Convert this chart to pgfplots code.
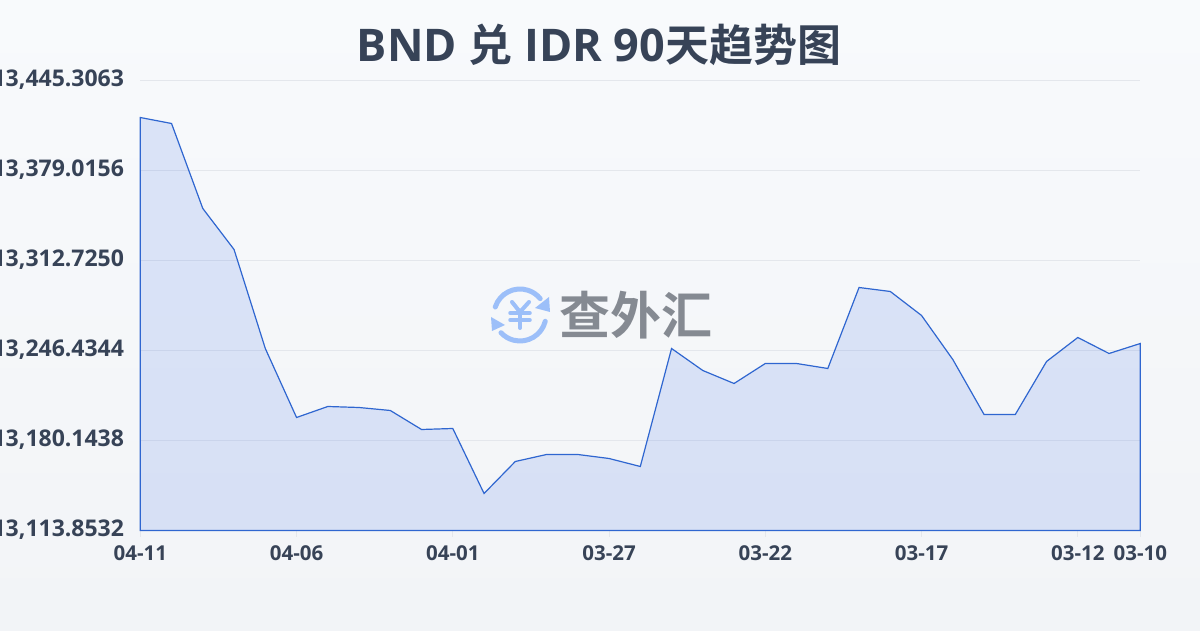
\documentclass[border=0pt]{standalone}
\usepackage{pgfplots}
\pgfplotsset{compat=1.18}
\usepackage{fontspec}
\setmainfont{Open Sans}
\newfontfamily\cjk{Noto Sans CJK SC}[BoldFont={Noto Sans CJK SC Bold}]
\definecolor{txt}{HTML}{374357}
\definecolor{gridc}{HTML}{E4E7EC}
\definecolor{linec}{HTML}{2F66D0}
\definecolor{fillc}{HTML}{3B6CE6}
\definecolor{bgtop}{HTML}{F8FAFC}
\definecolor{bgbot}{HTML}{F2F4F7}
\definecolor{logoc}{HTML}{9CBFF9}
\definecolor{wmc}{HTML}{858A92}
\pgfplotstableread{
idx val
0 13418.05
1 13413.63
2 13351.03
3 13320.83
4 13247.91
5 13197.09
6 13205.19
7 13204.45
8 13202.25
9 13188.25
10 13188.99
11 13141.11
12 13164.68
13 13169.84
14 13169.84
15 13166.89
16 13161.00
17 13247.91
18 13231.70
19 13222.13
20 13236.86
21 13236.86
22 13233.18
23 13292.84
24 13289.90
25 13272.22
26 13239.81
27 13199.30
28 13199.30
29 13238.34
30 13256.01
31 13244.23
32 13251.59
}\datatable
\begin{document}
\begin{tikzpicture}[x=1pt,y=1pt]
\useasboundingbox (0,0) rectangle (1200,630);
\clip (0,0) rectangle (1200,630);
\shade[top color=bgtop,bottom color=bgbot] (0,0) rectangle (1200,630);
\begin{axis}[
  at={(140.3pt,99.5pt)},anchor=south west,
  scale only axis,width=1000pt,height=450pt,
  xmin=0,xmax=32,ymin=13113.8532,ymax=13445.3063,
  axis x line=bottom,axis y line=left,
  axis line style={draw=none},
  x axis line style={-},y axis line style={-},
  scaled y ticks=false,scaled x ticks=false,
  xtick={0,5,10,15,20,25,30,32},
  xticklabels={04-11,04-06,04-01,03-27,03-22,03-17,03-12,03-10},
  ytick={13113.8532,13180.1438,13246.4344,13312.7250,13379.0156,13445.3063},
  yticklabels={{13,113.8532},{13,180.1438},{13,246.4344},{13,312.7250},{13,379.0156},{13,445.3063}},
  ymajorgrids,
  grid style={gridc,line width=1pt},
  tick style={draw=none},
  extra x ticks={0,5,10,15,20,25,30,32},
  extra x tick labels={},
  extra x tick style={tick style={draw=gridc,line width=1pt},major tick length=6pt,tick align=outside},
  xticklabel style={font=\fontsize{20.5}{20.5}\selectfont\bfseries,text=txt,inner sep=0pt,yshift=-13pt},
  yticklabel style={font=\fontsize{23}{23}\selectfont\bfseries,text=txt,inner sep=0pt,xshift=-14pt,yshift=0.5pt},
  clip=false,
]
\addplot[draw=linec,line width=1.2pt,fill=fillc,fill opacity=0.15] table[x=idx,y=val]{\datatable} \closedcycle;
\end{axis}
\node[font=\bfseries\fontsize{45}{45}\selectfont,text=txt] at (599,585) {BND {\cjk\bfseries\fontsize{44}{44}\selectfont 兑} IDR 90{\cjk\bfseries\fontsize{44}{44}\selectfont 天趋势图}};
\node[font=\cjk\bfseries\fontsize{51}{51}\selectfont,text=wmc,anchor=center] at (636,315) {查外汇};
\begin{scope}[shift={(520,315)}]
  \draw[logoc,line width=5pt,line cap=round] (162:26) arc (162:39:26);
  \fill[logoc] (30,3) -- (29,18) -- (15,7) -- cycle;
  \draw[logoc,line width=5pt,line cap=round] (-14:26) arc (-14:-137:26);
  \fill[logoc] (-29,-2) -- (-15,-10) -- (-28,-16) -- cycle;
  \draw[logoc,line width=4pt,line cap=round,line join=round] (-8,13) -- (0,3) -- (9,13);
  \draw[logoc,line width=4pt,line cap=round] (0,3) -- (0,-13);
  \draw[logoc,line width=3.5pt,line cap=round] (-10,2) -- (10,2) (-10,-5) -- (10,-5);
\end{scope}
\end{tikzpicture}
\end{document}
